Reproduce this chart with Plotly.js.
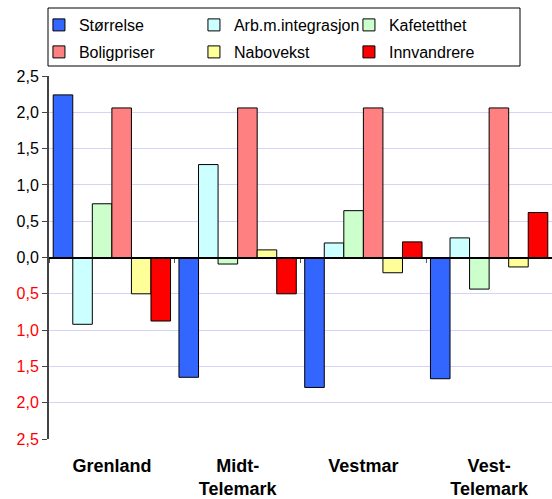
<!DOCTYPE html>
<html><head><meta charset="utf-8">
<script src="https://cdn.plot.ly/plotly-3.0.1.min.js"></script>
<style>html,body{margin:0;padding:0;background:#fff}#chart{width:552px;height:499px}</style>
</head><body><div id="chart"></div>
<script>
const regions = ['Grenland', 'Midt-<br>Telemark', 'Vestmar', 'Vest-<br>Telemark'];
const seriesNames = ['Størrelse', 'Arb.m.integrasjon', 'Kafetetthet', 'Boligpriser', 'Nabovekst', 'Innvandrere'];
const storrelse   = [2.24, -1.65, -1.79, -1.67];
const arbInteg    = [-0.92, 1.28, 0.20, 0.27];
const kafetetthet = [0.74, -0.09, 0.645, -0.435];
const boligpriser = [2.06, 2.06, 2.06, 2.06];
const nabovekst   = [-0.50, 0.105, -0.21, -0.13];
const innvandrere = [-0.875, -0.50, 0.215, 0.62];
const yTickVals   = [2.5, 2, 1.5, 1, 0.5, 0, -0.5, -1, -1.5, -2, -2.5];
const yTickLabels = ['2,5', '2,0', '1,5', '1,0', '0,5', '0,0', '0,5', '1,0', '1,5', '2,0', '2,5'];

const seriesValues = [storrelse, arbInteg, kafetetthet, boligpriser, nabovekst, innvandrere];
const colors = ['#3366ff', '#ccffff', '#ccffcc', '#ff8080', '#ffff99', '#ff0000'];
const xCats = regions.map(r => '<b>' + r + '</b>');

const traces = seriesNames.map((name, i) => ({
  type: 'bar', name: name, x: xCats, y: seriesValues[i],
  legend: i < 3 ? 'legend' : 'legend2',
  marker: {color: colors[i], line: {color: '#000', width: 1}}
}));
// invisible trace to carry the zero-line axis with boundary ticks
traces.push({type: 'scatter', x: xCats, y: [0, 0, 0, 0], xaxis: 'x2', mode: 'none',
  showlegend: false, hoverinfo: 'skip'});

const tickText = yTickLabels.map((t, i) => yTickVals[i] < 0 ? '<span style="color:#ff0000">' + t + '</span>' : t);

const legendBase = {orientation: 'h', xanchor: 'left', yanchor: 'middle',
  borderwidth: 0, bgcolor: 'rgba(0,0,0,0)', font: {size: 16},
  entrywidth: 110, entrywidthmode: 'pixels', traceorder: 'normal'};

const layout = {
  width: 552, height: 499,
  margin: {l: 49, r: 0, t: 76, b: 60},
  font: {family: 'Liberation Sans, Arial, sans-serif', size: 16, color: '#000'},
  paper_bgcolor: '#fff', plot_bgcolor: '#fff',
  barmode: 'group', bargap: 0.067, bargroupgap: 0,
  showlegend: true,
  legend: Object.assign({}, legendBase, {x: -0.02, y: 1 + (76 - 25) / 363}),
  legend2: Object.assign({}, legendBase, {x: -0.02, y: 1 + (76 - 52) / 363}),
  shapes: [{type: 'rect', xref: 'paper', yref: 'paper', layer: 'below',
    x0: -1 / 503, x1: 471 / 503, y0: 1 + 10 / 363, y1: 1 + 68 / 363,
    line: {color: '#000', width: 1}, fillcolor: 'rgba(0,0,0,0)'}],
  xaxis: {type: 'category', categoryarray: xCats, range: [-0.5, 3.5],
    showline: false, showgrid: false, zeroline: false, ticks: '',
    ticklabelstandoff: 14, tickfont: {size: 18}},
  xaxis2: {type: 'category', categoryarray: xCats, range: [-0.5, 3.5], overlaying: 'x',
    anchor: 'free', position: 0.5, showline: true, linecolor: '#000', linewidth: 1.5,
    showticklabels: false, ticks: 'outside', tickson: 'boundaries', ticklen: 4,
    tickcolor: '#555', showgrid: false, zeroline: false},
  yaxis: {range: [-2.5, 2.5], tickvals: yTickVals, ticktext: tickText,
    showline: true, linecolor: '#444', linewidth: 2, ticks: 'outside', ticklen: 5,
    tickcolor: '#444', gridcolor: '#d4d4f8', gridwidth: 1, zeroline: true,
    zerolinecolor: '#000', zerolinewidth: 1.5, tickfont: {size: 16}}
};
Plotly.newPlot('chart', traces, layout, {displayModeBar: false, staticPlot: true});
</script></body></html>
